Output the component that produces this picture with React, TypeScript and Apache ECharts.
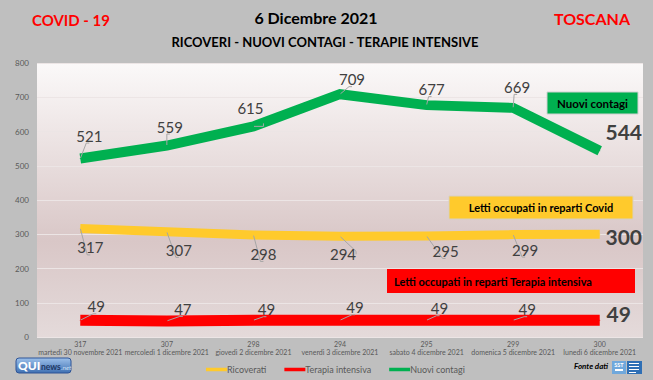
import React, { useEffect, useRef } from "react";
import * as echarts from "echarts";

const categories = [
  "martedì 30 novembre 2021",
  "mercoledì 1 dicembre 2021",
  "giovedì 2 dicembre 2021",
  "venerdì 3 dicembre 2021",
  "sabato 4 dicembre 2021",
  "domenica 5 dicembre 2021",
  "lunedì 6 dicembre 2021",
];
const ricoverati = [317, 307, 298, 294, 295, 299, 300];
const terapiaIntensiva = [49, 47, 49, 49, 49, 49, 49];
const nuoviContagi = [521, 559, 615, 709, 677, 669, 544];
const seriesNames = ["Ricoverati", "Terapia intensiva", "Nuovi contagi"];
const yMin = 0;
const yMax = 800;
const yInterval = 100;

// label offsets (layout only)
const greenOffsets = [[9, -23], [3, -19], [-3, -18], [12, -15], [5, -16], [4, -21], [24, -19]];
const yellowOffsets = [[10, 19], [12, 18], [10, 19], [3, 18], [19, 15], [12, 15], [24, 2]];
const redOffsets = [[16, -14], [16, -12], [13, -11], [15, -13], [13, -12], [14, -11], [19, -7]];

const FONT = "Lato";

function buildData(values: number[], offsets: number[][]) {
  return values.map((v, i) => {
    const last = i === values.length - 1;
    return {
      value: v,
      label: {
        show: true,
        position: "inside",
        offset: offsets[i],
        fontSize: last ? 21 : 15,
        fontWeight: last ? "bold" : "normal",
        color: "#404040",
        fontFamily: FONT,
      },
      labelLine: { show: !last },
    };
  });
}

export default function App() {
  const ref = useRef<HTMLDivElement>(null);
  useEffect(() => {
    if (!ref.current) return;
    const chart = echarts.init(ref.current, null, { renderer: "svg" });
    const lineSeries = (name: string, values: number[], offsets: number[][], color: string, width: number) => ({
      name,
      type: "line",
      data: buildData(values, offsets),
      symbol: "circle",
      symbolSize: 1,
      showSymbol: true,
      showAllSymbol: true,
      itemStyle: { color },
      lineStyle: { color, width, cap: "butt", join: "miter" },
      labelLine: {
        show: true,
        length2: 3,
        lineStyle: { color: "#a6a6a6", width: 1 },
      },
      emphasis: { disabled: true },
    });
    const tokenStyle = { fontSize: 7, lineHeight: 8, color: "#595959", fontFamily: FONT, align: "center", width: 86 };
    chart.setOption({
      animation: false,
      backgroundColor: "#bfbfbf",
      textStyle: { fontFamily: FONT },
      grid: {
        left: 37,
        right: 10,
        top: 63,
        bottom: 43,
        show: true,
        borderWidth: 0,
        backgroundColor: new echarts.graphic.LinearGradient(0, 0, 0, 1, [
          { offset: 0, color: "#fbf9f9" },
          { offset: 0.65, color: "#d9c7c7" },
          { offset: 1, color: "#e4dada" },
        ]),
      },
      xAxis: {
        type: "category",
        data: categories,
        boundaryGap: true,
        axisLine: { show: false },
        axisTick: { show: false },
        axisLabel: {
          interval: 0,
          margin: 3,
          align: "center",
          color: "#595959",
          fontFamily: FONT,
          formatter: (value: string, index: number) => `{v|${ricoverati[index]}}\n{d|${value}}`,
          rich: { v: tokenStyle, d: tokenStyle },
        },
      },
      yAxis: {
        type: "value",
        min: yMin,
        max: yMax,
        interval: yInterval,
        axisLine: { show: false },
        axisTick: { show: false },
        axisLabel: { fontSize: 8, color: "#595959", margin: 8, fontFamily: FONT },
        splitLine: { lineStyle: { color: "#ece5e5", width: 1 } },
      },
      legend: {
        data: seriesNames,
        left: 206,
        top: 365,
        icon: "rect",
        itemWidth: 21,
        itemHeight: 3.5,
        itemGap: 18,
        padding: 0,
        textStyle: { fontSize: 9, color: "#595959", fontFamily: FONT, padding: [0, 0, 0, -5] },
      },
      series: [
        lineSeries(seriesNames[0], ricoverati, yellowOffsets, "#ffca2c", 9),
        lineSeries(seriesNames[1], terapiaIntensiva, redOffsets, "#ff0000", 11),
        lineSeries(seriesNames[2], nuoviContagi, greenOffsets, "#00b050", 10),
      ],
      graphic: [
        { type: "text", left: 32, top: 12, style: { text: "COVID - 19", fontSize: 15, fontWeight: "bold", fill: "#ff0000", fontFamily: FONT } },
        { type: "text", right: 23, top: 10, style: { text: "TOSCANA", fontSize: 16, fontWeight: "bold", fill: "#ff0000", fontFamily: FONT } },
        { type: "text", x: 316, y: 17, style: { text: "6 Dicembre 2021", fontSize: 16, fontWeight: "bold", fill: "#000", fontFamily: FONT, align: "center", verticalAlign: "middle" } },
        { type: "text", x: 325, y: 42, style: { text: "RICOVERI - NUOVI CONTAGI - TERAPIE INTENSIVE", fontSize: 13, fontWeight: "bold", fill: "#000", fontFamily: FONT, align: "center", verticalAlign: "middle" } },
        // annotation boxes
        { type: "rect", shape: { x: 547, y: 92, width: 91, height: 22 }, style: { fill: "#00b050", stroke: "#d0d0d0", lineWidth: 1 }, z: 10 },
        { type: "text", x: 592.5, y: 103, style: { text: "Nuovi contagi", fontSize: 11.5, fontWeight: "bold", fill: "#000", fontFamily: FONT, align: "center", verticalAlign: "middle" }, z: 11 },
        { type: "rect", shape: { x: 449, y: 196, width: 184, height: 23 }, style: { fill: "#ffca2c", stroke: "#d8d0c0", lineWidth: 1 }, z: 10 },
        { type: "text", x: 541, y: 207.5, style: { text: "Letti occupati in reparti Covid", fontSize: 11, fontWeight: "bold", fill: "#000", fontFamily: FONT, align: "center", verticalAlign: "middle" }, z: 11 },
        { type: "rect", shape: { x: 387, y: 269, width: 248, height: 24 }, style: { fill: "#ff0000" }, z: 10 },
        { type: "text", x: 394, y: 281, style: { text: "Letti occupati in reparti Terapia intensiva", fontSize: 11, fontWeight: "bold", fill: "#000", fontFamily: FONT, align: "left", verticalAlign: "middle" }, z: 11 },
        // QUInews logo
        {
          type: "group",
          x: 16,
          y: 358,
          children: [
            {
              type: "rect",
              shape: { x: 0, y: 0, width: 55, height: 15, r: 3 },
              style: {
                fill: new echarts.graphic.LinearGradient(0, 0, 0, 1, [
                  { offset: 0, color: "#9cc0ea" },
                  { offset: 1, color: "#3f70b2" },
                ]),
                stroke: "#2f5597",
                lineWidth: 1,
              },
            },
            { type: "text", x: 2, y: 7.5, style: { text: "QUI", fontSize: 12, fontWeight: 900, fill: "#ffffff", fontFamily: FONT, verticalAlign: "middle" } },
            { type: "text", x: 25, y: 8.5, style: { text: "news", fontSize: 8.5, fontWeight: "bold", fill: "#1f3864", fontFamily: FONT, verticalAlign: "middle" } },
            { type: "text", x: 45, y: 9, style: { text: ".net", fontSize: 6.5, fontStyle: "italic", fill: "#cfe2f6", fontFamily: FONT, verticalAlign: "middle" } },
          ],
        },
        // Fonte dati
        { type: "text", x: 574, y: 366, style: { text: "Fonte dati", fontSize: 8, fontStyle: "italic", fontWeight: "bold", fill: "#000", fontFamily: FONT, verticalAlign: "middle" } },
        // SST logo
        {
          type: "group",
          x: 612,
          y: 361,
          children: [
            { type: "rect", shape: { x: 0, y: 0, width: 14, height: 13 }, style: { fill: "#6fa8dc" } },
            { type: "text", x: 7, y: 4, style: { text: "SST", fontSize: 5.5, fontWeight: "bold", fill: "#ffffff", fontFamily: FONT, align: "center", verticalAlign: "middle" } },
            { type: "rect", shape: { x: 3, y: 8, width: 8, height: 2 }, style: { fill: "#ffffff" } },
            { type: "rect", shape: { x: 15, y: 0, width: 15, height: 13 }, style: { fill: "#2e6fb5" } },
            { type: "rect", shape: { x: 17, y: 2, width: 10, height: 1 }, style: { fill: "#ffffff" } },
            { type: "rect", shape: { x: 17, y: 5, width: 10, height: 1 }, style: { fill: "#ffffff" } },
            { type: "rect", shape: { x: 17, y: 8, width: 10, height: 1 }, style: { fill: "#ffffff" } },
            { type: "rect", shape: { x: 17, y: 11, width: 7, height: 1 }, style: { fill: "#ffffff" } },
          ],
        },
      ],
    });
    return () => chart.dispose();
  }, []);
  return (
    <div
      ref={ref}
      style={{ position: "fixed", left: 0, top: 0, width: 653, height: 380, background: "#bfbfbf" }}
    />
  );
}
